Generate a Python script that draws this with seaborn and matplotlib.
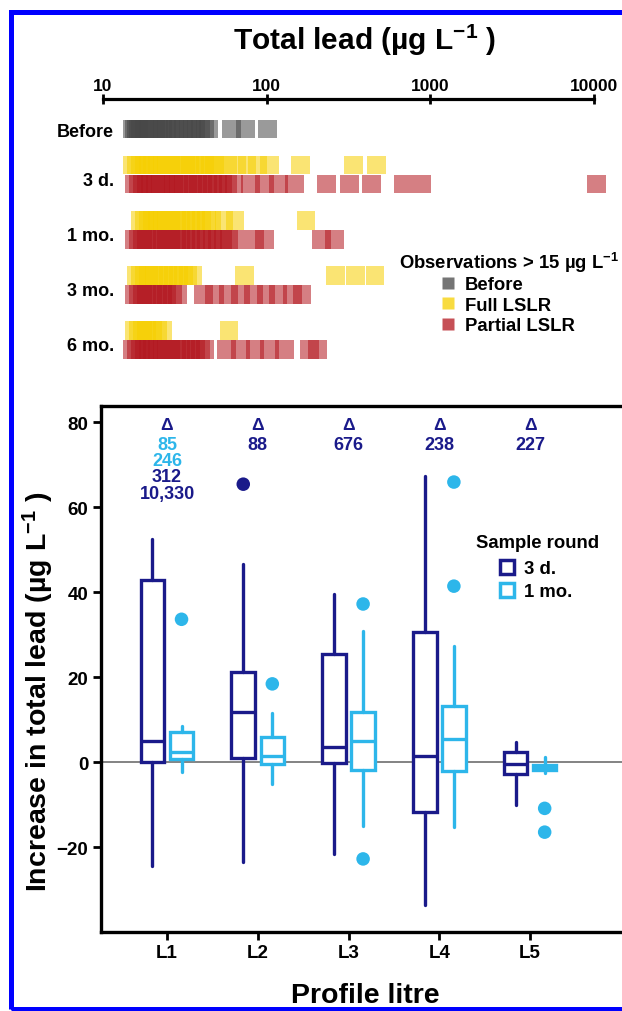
import numpy as np
import pandas as pd
import matplotlib
matplotlib.use("Agg")
import matplotlib.pyplot as plt
from matplotlib.lines import Line2D
from matplotlib.patches import Rectangle
from matplotlib.ticker import NullLocator
import seaborn as sns

# ------------------------------------------------------------------
# Data -- top panel: individual observations > 15 ug/L (total lead)
# ------------------------------------------------------------------
rounds = ["Before", "3 d.", "1 mo.", "3 mo.", "6 mo."]

obs_before = [15, 15.5, 16, 16.5, 17, 18, 19, 20, 21, 22, 23, 24.5, 26, 27.5,
              29, 31, 33, 35, 37, 39.5, 42, 44, 61, 74.5, 101]

obs_full_3d = [15, 16, 17, 18, 19, 20, 21.5, 23, 24.5, 26, 28, 30, 32, 34,
               36.5, 39, 42, 45, 48, 51, 58, 66, 76, 88, 104, 161, 339, 468]
obs_partial_3d = [15.5, 16.5, 17.5, 18.5, 19.5, 21, 22.5, 24, 25.5, 27, 29, 31,
                  33, 35.5, 38, 40.5, 43.5, 46.5, 50, 54, 58, 63, 80, 97, 118,
                  148, 232, 321, 437, 684, 891, 10330]

obs_full_1mo = [17, 18, 19, 20, 21.5, 23, 24.5, 26, 28, 30, 32, 34.5, 37, 40,
                43, 46, 55, 64, 174]
obs_partial_1mo = [15.5, 16.5, 17.5, 18.5, 20, 21.5, 23, 24.5, 26, 28, 30, 32,
                   34.5, 37, 40, 43, 46.5, 50, 54, 59, 65, 84, 97, 216, 260]

obs_full_3mo = [16, 17, 18, 19, 20.5, 22, 23.5, 25, 27, 29, 31, 33, 35.5,
                73.5, 263, 348, 460]
obs_partial_3mo = [15.5, 16.5, 17.5, 18.5, 20, 21.5, 23, 24.5, 26.5, 28.5,
                   41.3, 48.2, 58.6, 69.3, 83, 99, 117, 144, 164]

obs_full_6mo = [15.5, 16.5, 17.5, 18.5, 20, 21.5, 23, 59]
obs_partial_6mo = [15, 16, 17, 18, 19, 20, 21.5, 23, 24.5, 26, 28, 30, 32,
                   34.5, 37, 39.5, 42, 57, 69, 85, 104, 128, 183, 204]

top_ticks = [10, 100, 1000, 10000]
top_tick_labels = ["10", "100", "1000", "10000"]

# ------------------------------------------------------------------
# Data -- bottom panel: increase in total lead by profile litre
# ------------------------------------------------------------------
profile_litres = ["L1", "L2", "L3", "L4", "L5"]

q1_3d = [0.0, 1.0, -0.2, -11.8, -2.8]
med_3d = [5.0, 11.8, 3.5, 1.5, -0.5]
q3_3d = [42.9, 21.2, 25.4, 30.6, 2.4]
wlo_3d = [-24.4, -23.5, -21.6, -33.6, -10.1]
whi_3d = [52.5, 46.6, 39.5, 67.3, 4.7]
fliers_3d = [[], [65.4], [], [], []]

q1_1mo = [0.7, -0.5, -1.8, -2.0, -1.8]
med_1mo = [2.4, 1.4, 4.9, 5.4, -1.2]
q3_1mo = [7.0, 5.9, 11.8, 13.2, -0.8]
wlo_1mo = [-2.4, -5.2, -15.0, -15.3, -2.6]
whi_1mo = [8.5, 11.5, 30.8, 27.3, 1.2]
fliers_1mo = [[33.6], [18.4], [37.2, -22.8], [65.9, 41.4], [-10.9, -16.5]]

# off-scale values (> axis maximum), listed above each profile litre
offscale_1mo = [["85", "246"], [], [], [], []]
offscale_3d = [["312", "10,330"], ["88"], ["676"], ["238"], ["227"]]

# ------------------------------------------------------------------
# Style
# ------------------------------------------------------------------
sns.set_theme(style="white")
plt.rcParams["font.family"] = ["Liberation Sans", "DejaVu Sans"]
plt.rcParams["font.weight"] = "bold"
plt.rcParams["mathtext.default"] = "regular"
plt.rcParams["axes.edgecolor"] = "black"
plt.rcParams["xtick.color"] = "black"
plt.rcParams["ytick.color"] = "black"
plt.rcParams["text.color"] = "black"

C_3D = "#1a1a8a"
C_1MO = "#2db6ea"
pal_top = {"Before": "#474747", "Full LSLR": "#f6cf00", "Partial LSLR": "#b3161e"}

W, H = 622, 1012
fig = plt.figure(figsize=(W / 100, H / 100), dpi=100)
fig.patch.set_facecolor("white")

# ------------------------------------------------------------------
# Top panel
# ------------------------------------------------------------------
ax_top = fig.add_axes([103 / W, 1 - 365 / H, (594 - 103) / W, (365 - 100) / H])

row_pos = {("Before", "Before"): 0.0}
for i, r in enumerate(rounds[1:]):
    row_pos[(r, "Full LSLR")] = 1.9 + 2.9 * i
    row_pos[(r, "Partial LSLR")] = 2.9 + 2.9 * i
label_pos = [0.0] + [1.9 + 2.9 * i + 0.7 for i in range(4)]

series = [
    ("Before", "Before", obs_before),
    ("3 d.", "Full LSLR", obs_full_3d), ("3 d.", "Partial LSLR", obs_partial_3d),
    ("1 mo.", "Full LSLR", obs_full_1mo), ("1 mo.", "Partial LSLR", obs_partial_1mo),
    ("3 mo.", "Full LSLR", obs_full_3mo), ("3 mo.", "Partial LSLR", obs_partial_3mo),
    ("6 mo.", "Full LSLR", obs_full_6mo), ("6 mo.", "Partial LSLR", obs_partial_6mo),
]
rows = []
for rnd, typ, vals in series:
    for v in vals:
        rows.append({"round": rnd, "type": typ, "value": v,
                     "ypos": row_pos[(rnd, typ)]})
df_obs = pd.DataFrame(rows)

sns.scatterplot(data=df_obs, x="value", y="ypos", hue="type", palette=pal_top,
                marker="s", s=180, alpha=0.55, linewidth=0, legend=False,
                clip_on=False, ax=ax_top)

ax_top.set_xscale("log")
ax_top.set_xlim(10, 10000)
ax_top.set_ylim(12.37, -1.58)
ax_top.set_xlabel("")
ax_top.set_ylabel("")
for s in ["left", "right", "bottom"]:
    ax_top.spines[s].set_visible(False)
ax_top.spines["top"].set_linewidth(2.3)
ax_top.spines["top"].set_bounds(10, 10000)
ax_top.xaxis.set_minor_locator(NullLocator())
ax_top.set_xticks(top_ticks, labels=top_tick_labels)
ax_top.tick_params(axis="x", which="major", top=True, bottom=False, labeltop=True,
                   labelbottom=False, direction="inout", length=7, width=2,
                   pad=1, labelsize=12.5)
ax_top.set_yticks(label_pos, labels=rounds)
ax_top.tick_params(axis="y", length=0, pad=-8, labelsize=13)
ax_top.set_facecolor("none")

fig.text(365 / W, 1 - 40 / H, "Total lead (µg L$^{-1}$ )", fontsize=21.5,
         ha="center", va="center")

# legend for top panel
fig.text(399 / W, 1 - 263 / H, "Observations > 15 µg L$^{-1}$", fontsize=13.3,
         ha="left", va="center")
top_handles = [Line2D([], [], marker="s", linestyle="none", markersize=8,
                      markerfacecolor=pal_top[k], markeredgecolor="none", alpha=0.75)
               for k in ["Before", "Full LSLR", "Partial LSLR"]]
fig.legend(top_handles, ["Before", "Full LSLR", "Partial LSLR"],
           loc="upper left", bbox_to_anchor=(441 / W, 1 - 277 / H),
           bbox_transform=fig.transFigure, frameon=False, fontsize=13.3,
           handlelength=0.8, handletextpad=0.5, labelspacing=0.2,
           borderpad=0, borderaxespad=0)

# ------------------------------------------------------------------
# Bottom panel
# ------------------------------------------------------------------
ax = fig.add_axes([101 / W, 1 - 933 / H, (640 - 101) / W, (933 - 407) / H])
ax.set_xlim(-0.727, 5.21)
ax.set_ylim(-40, 83.8)
ax.axhline(0, color="#7a7a7a", lw=1.3, zorder=1)

off = 0.16
bw = 0.26


def make_stats(q1, med, q3, lo, hi):
    return [dict(q1=a, med=b, q3=c, whislo=d, whishi=e, fliers=[])
            for a, b, c, d, e in zip(q1, med, q3, lo, hi)]


for stats, color, dx in [
    (make_stats(q1_3d, med_3d, q3_3d, wlo_3d, whi_3d), C_3D, -off),
    (make_stats(q1_1mo, med_1mo, q3_1mo, wlo_1mo, whi_1mo), C_1MO, off),
]:
    ax.bxp(stats, positions=[i + dx for i in range(len(profile_litres))],
           widths=bw, patch_artist=True, showcaps=False, manage_ticks=False,
           boxprops=dict(facecolor="white", edgecolor=color, linewidth=2.4),
           whiskerprops=dict(color=color, linewidth=2.4),
           medianprops=dict(color=color, linewidth=2.4), zorder=2)

fl_rows = []
for i, vals in enumerate(fliers_3d):
    for v in vals:
        fl_rows.append({"pos": i - off, "value": v, "round": "3 d."})
for i, vals in enumerate(fliers_1mo):
    for v in vals:
        fl_rows.append({"pos": i + off, "value": v, "round": "1 mo."})
df_fl = pd.DataFrame(fl_rows)
sns.scatterplot(data=df_fl, x="pos", y="value", hue="round",
                palette={"3 d.": C_3D, "1 mo.": C_1MO}, s=95, linewidth=0,
                legend=False, zorder=3, ax=ax)

# off-scale annotations
for i in range(len(profile_litres)):
    ax.text(i, 79.5, "Δ", color=C_3D, fontsize=12.5, ha="center", va="center")
    lines = [(t, C_1MO) for t in offscale_1mo[i]] + [(t, C_3D) for t in offscale_3d[i]]
    for k, (t, c) in enumerate(lines):
        ax.text(i, 74.8 - 3.85 * k, t, color=c, fontsize=13, ha="center",
                va="center")

ax.set_xlabel("")
ax.set_ylabel("")
ax.set_xticks(range(len(profile_litres)), labels=profile_litres)
ax.set_yticks([-20, 0, 20, 40, 60, 80])
ax.tick_params(axis="both", direction="out", length=6, width=2, labelsize=13.5,
               pad=3, left=True, bottom=True)
for s in ["top", "left", "bottom"]:
    ax.spines[s].set_linewidth(2.4)
    ax.spines[s].set_color("black")
ax.spines["right"].set_visible(False)
ax.set_facecolor("none")

fig.text(38 / W, 1 - 692 / H, "Increase in total lead (µg L$^{-1}$ )",
         rotation=90, fontsize=20.5, ha="center", va="center")
fig.text(365 / W, 1 - 996 / H, "Profile litre", fontsize=20.5, ha="center",
         va="center")

# legend for bottom panel
fig.text(476 / W, 1 - 543 / H, "Sample round", fontsize=13.3, ha="left",
         va="center")
bot_handles = [Line2D([], [], marker="s", linestyle="none", markersize=10,
                      markerfacecolor="white", markeredgecolor=c,
                      markeredgewidth=2.5) for c in [C_3D, C_1MO]]
fig.legend(bot_handles, ["3 d.", "1 mo."], loc="upper left",
           bbox_to_anchor=(500 / W, 1 - 561 / H), bbox_transform=fig.transFigure,
           frameon=False, fontsize=13.3, handlelength=0.8, handletextpad=0.5,
           labelspacing=0.35, borderpad=0, borderaxespad=0)

# blue frame around the figure
fig.patches.append(Rectangle((10.5 / W, 1 - 1009.5 / H), 2.0, (1009.5 - 12.5) / H,
                             transform=fig.transFigure, fill=False,
                             edgecolor="#0000ff", linewidth=3.6, clip_on=False))

fig.savefig("out.png", dpi=100)
